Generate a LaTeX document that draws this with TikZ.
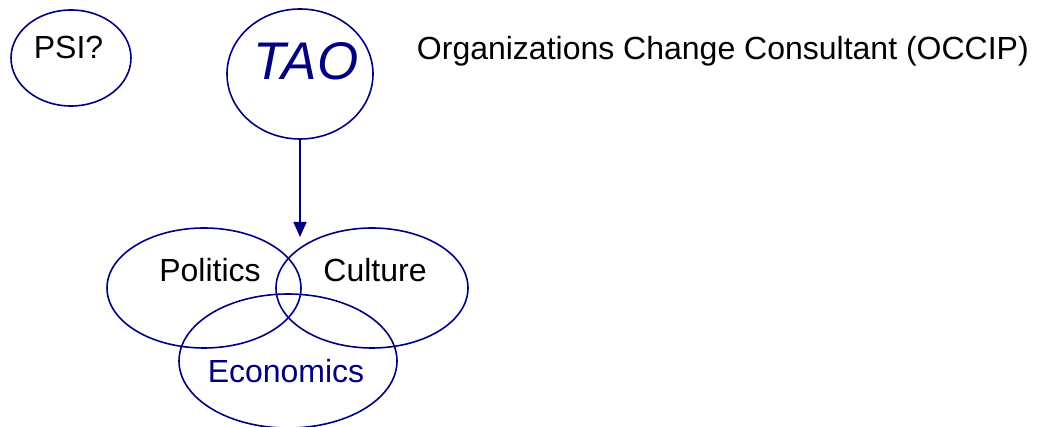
\documentclass[tikz,border=0pt]{standalone}
\usepackage{fontspec}
\setmainfont{Liberation Sans}
\usetikzlibrary{shapes.geometric,arrows.meta}
\definecolor{navy}{RGB}{0,0,128}
\begin{document}
\begin{tikzpicture}[x=1pt,y=-1pt,
  oval/.style={draw=navy,line width=1.6pt,ellipse,inner sep=0pt},
  lbl/.style={anchor=base,inner sep=0pt,font=\fontsize{32}{36}\selectfont},
  conn/.style={draw=navy,line width=1.6pt,-{Triangle[length=15pt,width=13pt]}}]
\useasboundingbox (0,0) rectangle (1039,427);
\node[oval,minimum width=120pt,minimum height=96pt] (psi) at (71,58) {};
\node[oval,minimum width=146pt,minimum height=130pt] (tao) at (300,74) {};
\node[oval,minimum width=194pt,minimum height=120pt] (pol) at (204,288) {};
\node[oval,minimum width=192pt,minimum height=120pt] (cul) at (372,288) {};
\node[oval,minimum width=218pt,minimum height=134pt] (eco) at (288,361) {};
\node[lbl] (psit) at (68.5,59) {PSI?};
\node[lbl,text=navy,font=\fontsize{53}{58}\selectfont\itshape] (taot) at (306,80) {TAO};
\node[lbl] (polt) at (210,282) {Politics};
\node[lbl] (cult) at (375,282) {Culture};
\node[lbl,text=navy] (ecot) at (286,383) {Economics};
\node[lbl,anchor=base east] (title) at (1029,60) {Organizations Change Consultant (OCCIP)};
\coordinate (tip) at (300,237);
\draw[conn] (tao.south) -- (tip);
\end{tikzpicture}
\end{document}
